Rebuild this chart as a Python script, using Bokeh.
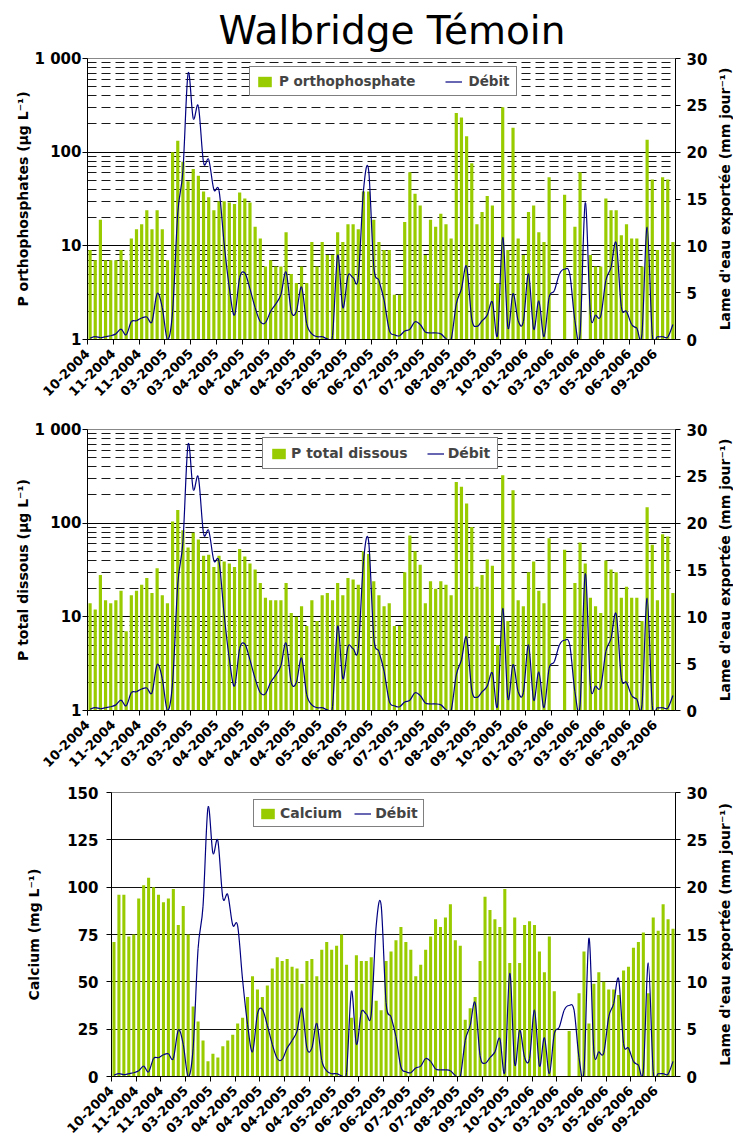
import math
from bokeh.plotting import figure
from bokeh.models import (Range1d, LinearAxis, LinearScale, FixedTicker, Legend,
                          LegendItem, ColumnDataSource)
from bokeh.core.properties import value
from bokeh.layouts import column, row
from bokeh.embed import file_html
from bokeh.resources import INLINE

nan = float("nan")

# x-axis tick labels (one every 5 samples)
tick_labels = ["10-2004", "11-2004", "11-2004", "03-2005", "03-2005", "04-2005",
               "04-2005", "04-2005", "04-2005", "05-2005", "06-2005", "06-2005",
               "07-2005", "07-2005", "08-2005", "09-2005", "10-2005", "01-2006",
               "03-2006", "03-2006", "05-2006", "06-2006", "09-2006"]

# P orthophosphate (ug/L)
p_ortho = [9, 7, 19, 7, 7, 7, 9, 7, 12, 15, 17, 24, 15, 24, 15, 7, 100, 132, 79, 49,
           66, 56, 38, 33, 24, 30, 30, 29, 28, 37, 32, 29, 16, 12, 6, 7, 6, 6, 14, 5,
           4, 6, 4, 11, 6, 11, 8, 8, 14, 11, 17, 17, 15, 38, 38, 19, 11, 9, 9, 3,
           3, 18, 61, 36, 27, 8, 19, 16, 22, 17, 12, 262, 234, 148, 76, 17, 23, 34, 27, 4,
           301, 9, 182, 12, 8, 23, 27, 14, 11, 54, nan, nan, 35, nan, 16, 61, nan, 8, 6, 6,
           32, 24, 24, 13, 17, 12, 12, 6, 136, 51, 9, 54, 51, 11]

# P total dissous (ug/L)
p_total = [14, 12, 28, 15, 14, 15, 19, 7, 17, 19, 22, 26, 18, 33, 17, 14, 104, 138, 84, 55,
           79, 67, 45, 46, 34, 45, 39, 37, 34, 53, 44, 37, 32, 23, 16, 15, 15, 15, 23, 11,
           10, 13, 8, 15, 9, 17, 18, 15, 23, 17, 26, 25, 22, 50, 47, 24, 17, 13, 14, 8,
           8, 30, 74, 50, 36, 14, 24, 20, 24, 22, 17, 275, 245, 162, 91, 21, 28, 41, 35, 5,
           324, 9, 224, 15, 13, 30, 39, 19, 14, 69, nan, nan, 52, nan, 23, 62, 37, 16, 13, 11,
           40, 32, 30, 16, 21, 16, 16, 9, 148, 59, 15, 76, 72, 18]

# Calcium (mg/L)
calcium = [71, 96, 96, 74, 75, 94, 101, 105, 100, 96, 92, 94, 99, 80, 90, 75, 37, 29, 19, 8,
           12, 10, 16, 19, 22, 28, 31, 42, 53, 46, 42, 48, 57, 63, 61, 62, 58, 57, 49, 61,
           62, 53, 67, 71, 67, 69, 75, 59, 31, 64, 61, 61, 63, 40, 35, 61, 66, 72, 79, 71,
           67, 53, 59, 67, 74, 83, 79, 84, 91, 72, 69, 30, 36, 42, 61, 95, 88, 83, 79, 99,
           60, 84, 60, 80, 82, 80, 66, 55, 74, 45, nan, nan, 24, nan, 44, 66, 28, 49, 55, 50,
           46, 46, 43, 56, 58, 68, 71, 76, 44, 84, 77, 91, 83, 78]

# Debit - lame d'eau exportee (mm/jour)
debit = [0.15, 0.3, 0.2, 0.3, 0.4, 0.6, 1.1, 0.5, 1.9, 2.0, 2.3, 2.4, 1.9, 4.9, 3.4, 0.0,
         3.0, 13.5, 18.0, 28.4, 23.6, 24.9, 18.9, 19.2, 16.0, 15.9, 10.2, 5.5, 2.6, 6.6,
         7.1, 5.4, 3.4, 1.9, 1.8, 3.0, 3.8, 4.8, 7.2, 3.0, 3.0, 5.6, 1.7, 0.6, 0.3, 0.3,
         0.1, 0.4, 9.0, 3.4, 6.8, 6.6, 6.6, 15.9, 18.1, 7.8, 6.3, 4.2, 1.0, 0.5, 0.4, 0.9,
         1.1, 1.9, 1.6, 0.8, 0.7, 0.7, 0.6, 0.1, 0.0, 3.8, 5.4, 7.8, 2.2, 1.4, 2.0, 2.6,
         4.0, 0.5, 10.9, 1.3, 4.9, 2.0, 1.9, 7.0, 1.1, 4.1, 0.3, 4.5, 5.2, 7.0, 7.5, 7.0,
         2.0, 0.6, 14.6, 2.7, 2.6, 2.5, 6.3, 7.7, 10.3, 3.5, 3.0, 1.6, 1.2, 0.6, 12.0, 0.5,
         0.3, 0.3, 0.25, 1.6]

N = len(debit)
xc = [i + 0.5 for i in range(N)]

GREEN = "#99CC00"
NAVY = "#000080"
FONT = "DejaVu Sans"
RIGHT_LABEL = "Lame d'eau exportée (mm jour⁻¹)"
MAIN_W = 715
SIDE_W = 733 - MAIN_W


def smooth_source(vals):
    x, y, n = xc, list(vals), len(vals)
    d = {k: [] for k in ("x0", "y0", "x1", "y1", "cx0", "cy0", "cx1", "cy1")}
    for i in range(n - 1):
        im, ip2 = max(i - 1, 0), min(i + 2, n - 1)
        d["x0"].append(x[i]); d["y0"].append(y[i])
        d["x1"].append(x[i + 1]); d["y1"].append(y[i + 1])
        d["cx0"].append(x[i] + (x[i + 1] - x[im]) / 6.0)
        d["cy0"].append(y[i] + (y[i + 1] - y[im]) / 6.0)
        d["cx1"].append(x[i + 1] - (x[ip2] - x[i]) / 6.0)
        d["cy1"].append(y[i + 1] - (y[ip2] - y[i]) / 6.0)
    return ColumnDataSource(d)


def style_axis(ax, size="15px"):
    ax.axis_line_color = "black"
    ax.axis_line_width = 1
    ax.major_tick_line_color = "black"
    ax.major_tick_out = 5
    ax.major_tick_in = 0
    ax.minor_tick_out = 0
    ax.minor_tick_in = 0
    ax.major_label_text_font = FONT
    ax.major_label_text_font_style = "bold"
    ax.major_label_text_font_size = size
    ax.major_label_text_color = "black"
    ax.axis_label_text_font = FONT
    ax.axis_label_text_font_style = "bold"
    ax.axis_label_text_font_size = "14px"
    ax.axis_label_text_color = "black"


def side_label(height):
    """Narrow strip holding the right-hand axis title, read bottom to top."""
    s = figure(width=SIDE_W, height=height, x_range=Range1d(0, 1), y_range=Range1d(0, 1),
               x_axis_location=None, y_axis_location=None, output_backend="svg",
               toolbar_location=None, min_border=0, min_border_left=0,
               min_border_right=0, min_border_top=0, min_border_bottom=0)
    s.outline_line_color = None
    s.grid.visible = False
    s.text(x=[0.5], y=[0.5], text=[RIGHT_LABEL], angle=math.pi / 2,
           text_align="center", text_baseline="middle", text_font=value(FONT),
           text_font_style="bold", text_font_size=value("14px"), text_color="black")
    return s


def panel(height, bl, bt, bb, log, bars, ylab, tick_standoff, lab_standoff,
          leg_label, leg_loc, leg_font, leg_pad, leg_spacing, leg_standoff, title=None):
    yr = Range1d(1, 1000) if log else Range1d(0, 150)
    p = figure(width=MAIN_W, height=height, x_range=Range1d(0, N), y_range=yr,
               y_axis_type="log" if log else "linear", output_backend="svg",
               toolbar_location=None, title=title,
               min_border_left=bl, min_border_right=MAIN_W - 675, min_border_top=bt,
               min_border_bottom=bb)
    p.extra_y_ranges = {"debit": Range1d(0, 30)}
    p.extra_y_scales = {"debit": LinearScale()}
    p.outline_line_color = "#888888"
    p.background_fill_color = "white"
    p.border_fill_color = "white"

    # grid
    p.xgrid.grid_line_color = None
    if log:
        minors = [m * d for d in (1, 10, 100) for m in range(2, 10)]
        p.ygrid.ticker = FixedTicker(ticks=[10, 100], minor_ticks=minors)
        p.ygrid.grid_line_color = "black"
        p.ygrid.minor_grid_line_color = "black"
        p.ygrid.minor_grid_line_dash = "9 5"
        p.ygrid.minor_grid_line_alpha = 0.9
    else:
        p.ygrid.ticker = FixedTicker(ticks=[25, 50, 75, 100, 125])
        p.ygrid.grid_line_color = "#111111"

    # left axis
    ya = p.yaxis[0]
    style_axis(ya)
    if log:
        ya.ticker = FixedTicker(ticks=[1, 10, 100, 1000])
        ya.major_label_overrides = {1: "1", 10: "10", 100: "100", 1000: "1 000"}
    else:
        ya.ticker = FixedTicker(ticks=[0, 25, 50, 75, 100, 125, 150])
    ya.major_label_standoff = tick_standoff
    ya.axis_label = ylab
    ya.axis_label_standoff = lab_standoff

    # right axis (debit)
    ra = LinearAxis(y_range_name="debit", ticker=FixedTicker(ticks=[0, 5, 10, 15, 20, 25, 30]))
    style_axis(ra)
    ra.major_label_standoff = 6
    p.add_layout(ra, "right")

    # bottom axis
    xa = p.xaxis[0]
    style_axis(xa, "13px")
    xa.ticker = FixedTicker(ticks=list(range(0, 5 * len(tick_labels), 5)))
    xa.major_label_overrides = {5 * k: lab for k, lab in enumerate(tick_labels)}
    xa.major_label_orientation = math.pi / 4
    xa.major_label_standoff = 7

    src = ColumnDataSource(dict(x=xc, top=bars))
    r_bar = p.vbar(x="x", top="top", bottom=1 if log else 0, width=0.62, source=src,
                   fill_color=GREEN, line_color=None)
    r_line = p.bezier(x0="x0", y0="y0", x1="x1", y1="y1", cx0="cx0", cy0="cy0",
                      cx1="cx1", cy1="cy1", source=smooth_source(debit),
                      line_color=NAVY, line_width=1.2, y_range_name="debit")

    leg = Legend(items=[LegendItem(label=leg_label, renderers=[r_bar]),
                        LegendItem(label="Débit", renderers=[r_line])],
                 orientation="horizontal", location=leg_loc)
    leg.border_line_color = "black"
    leg.border_line_width = 1
    leg.background_fill_color = "white"
    leg.background_fill_alpha = 1
    leg.label_text_font = FONT
    leg.label_text_font_style = "bold"
    leg.label_text_font_size = leg_font
    leg.glyph_width = 17
    leg.glyph_height = 13
    leg.label_standoff = leg_standoff
    leg.padding = leg_pad
    leg.spacing = leg_spacing
    leg.margin = 0
    p.add_layout(leg)
    return p


p1 = panel(405, 87, 57, 66, True, p_ortho, "P orthophosphates (µg L⁻¹)", 1, 1,
           "P orthophosphate", (162, 243), "13.5px", 6, 30, 6, title="Walbridge Témoin")
p1.title.text_font = FONT
p1.title.text_font_size = "39px"
p1.title.text_font_style = "normal"
p1.title.text_color = "black"
p1.title.align = "left"
p1.title.offset = 131
p1.title.standoff = 11

p2 = panel(373, 87, 24, 68, True, p_total, "P total dissous (µg L⁻¹)", 1, 1,
           "P total dissous", (175, 241), "14px", 7, 19, 4)

p3 = panel(362, 111, 14, 64, False, calcium, "Calcium (mg L⁻¹)", 8, 22,
           "Calcium", (142, 249), "14px", 5, 12, 4)

layout = column(row(p1, side_label(405)), row(p2, side_label(373)),
                row(p3, side_label(362)))
open("out.html", "w").write(file_html(layout, INLINE))
